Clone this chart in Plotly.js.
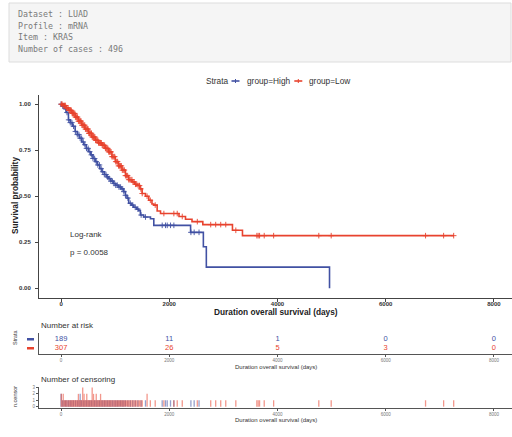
<!DOCTYPE html>
<html><head><meta charset="utf-8">
<script src="https://cdn.plot.ly/plotly-3.0.1.min.js"></script>
<style>html,body{margin:0;padding:0;background:#fff}#chart{width:512px;height:437px}</style>
</head><body><div id="chart"></div>
<script>
// ---------- data ----------
const infoLines = ["Dataset : LUAD", "Profile : mRNA", "Item : KRAS", "Number of cases : 496"];
const groupNames = ["group=High", "group=Low"];
const groupColors = ["#4151a3", "#e8432e"];

const highTime = [0, 25, 60, 95, 136, 170, 210, 260, 300, 340, 384, 420, 465, 507, 550, 590, 631, 670, 715, 755, 800, 840, 878, 920, 971, 1010, 1064, 1110, 1157, 1190, 1219, 1250, 1300, 1342, 1400, 1435, 1466, 1528, 1652, 1714, 2394, 2630, 2685, 4962];
const highSurv = [1.000, 0.990, 0.975, 0.955, 0.915, 0.900, 0.880, 0.852, 0.835, 0.815, 0.795, 0.780, 0.760, 0.742, 0.725, 0.705, 0.688, 0.670, 0.650, 0.633, 0.618, 0.605, 0.596, 0.582, 0.569, 0.560, 0.550, 0.540, 0.525, 0.505, 0.490, 0.462, 0.452, 0.440, 0.430, 0.422, 0.398, 0.387, 0.378, 0.342, 0.304, 0.226, 0.115, 0.000];

const lowTime = [0, 40, 90, 136, 200, 260, 320, 384, 440, 507, 570, 631, 690, 755, 815, 878, 940, 1002, 1060, 1126, 1190, 1250, 1312, 1360, 1405, 1460, 1498, 1560, 1621, 1680, 1714, 1776, 1838, 2180, 2300, 2420, 2620, 3168, 3353, 7262];
const lowSurv = [1.000, 0.993, 0.980, 0.967, 0.950, 0.930, 0.908, 0.886, 0.865, 0.842, 0.822, 0.804, 0.790, 0.777, 0.760, 0.741, 0.715, 0.688, 0.665, 0.642, 0.612, 0.590, 0.578, 0.565, 0.558, 0.540, 0.515, 0.500, 0.478, 0.458, 0.452, 0.420, 0.406, 0.390, 0.375, 0.362, 0.346, 0.315, 0.286, 0.286];

// one entry per censored case (repeats = several cases censored the same day)
const highCensored = [0, 0, 30, 55, 85, 110, 140, 170, 200, 230, 265, 300, 330, 353, 353, 380, 410, 440, 470, 500, 530, 560, 590, 620, 650, 680, 710, 740, 770, 800, 830, 860, 890, 920, 950, 980, 1010, 1040, 1070, 1100, 1130, 1160, 1190, 1235, 1280, 1325, 1370, 1420, 1480, 1560, 1869, 1930, 1962, 2023, 2085, 2400, 2460, 2550];
const lowCensored = [5, 5, 20, 40, 40, 62, 80, 95, 110, 130, 145, 160, 175, 190, 205, 215, 230, 240, 255, 265, 280, 290, 305, 320, 320, 335, 345, 358, 370, 385, 400, 400, 400, 412, 425, 425, 438, 450, 462, 475, 475, 488, 500, 512, 525, 538, 550, 562, 575, 575, 575, 588, 600, 600, 612, 625, 638, 650, 650, 665, 680, 692, 705, 718, 730, 730, 745, 760, 775, 790, 805, 820, 835, 850, 865, 880, 895, 910, 925, 940, 958, 975, 992, 1010, 1028, 1045, 1062, 1080, 1098, 1115, 1132, 1150, 1170, 1190, 1210, 1230, 1250, 1270, 1290, 1310, 1330, 1350, 1375, 1400, 1425, 1450, 1475, 1500, 1590, 1590, 1650, 1740, 1900, 2085, 2147, 2240, 2518, 2766, 2858, 2951, 3044, 3230, 3619, 3643, 3669, 3755, 3929, 4764, 4993, 6737, 7071, 7257];

const riskTimes = [0, 2000, 4000, 6000, 8000];
const highRisk = [189, 11, 1, 0, 0];
const lowRisk = [307, 26, 5, 3, 0];

const xTicks = [0, 2000, 4000, 6000, 8000];
const survTicks = [0, 0.25, 0.5, 0.75, 1];
const survTickText = ["0.00", "0.25", "0.50", "0.75", "1.00"];
const censorTicks = [0, 1, 2, 3];
const testLabel = "Log-rank";
const pLabel = "p = 0.0058";

// ---------- helpers ----------
const W = 512, H = 437;
const px = x => x / W;
const py = y => 1 - y / H;
function stepAt(times, surv, t) {
  let v = surv[0];
  for (let i = 0; i < times.length; i++) { if (times[i] <= t) v = surv[i]; else break; }
  return v;
}
function countByTime(arr) {
  const m = new Map();
  arr.forEach(t => m.set(t, (m.get(t) || 0) + 1));
  return [Array.from(m.keys()), Array.from(m.values())];
}
const FONT = "Liberation Sans, Arial, sans-serif";
const XR = [-408, 8335];

const curves = [[highTime, highSurv, highCensored], [lowTime, lowSurv, lowCensored]];
const traces = [];
curves.forEach((c, g) => {
  traces.push({
    x: c[0], y: c[1], type: "scatter", mode: "lines", line: {shape: "hv", color: groupColors[g], width: 1.6},
    name: groupNames[g], showlegend: false, xaxis: "x", yaxis: "y", hoverinfo: "skip"
  });
  const ct = countByTime(c[2])[0];
  traces.push({
    x: ct, y: ct.map(t => stepAt(c[0], c[1], t)), type: "scatter", mode: "markers",
    marker: {symbol: "cross-thin", size: 4, color: groupColors[g], line: {color: groupColors[g], width: 0.9}},
    showlegend: false, xaxis: "x", yaxis: "y", hoverinfo: "skip"
  });
});
[highRisk, lowRisk].forEach((r, g) => {
  traces.push({
    x: riskTimes, y: riskTimes.map(() => g === 0 ? 2 : 1), text: r.map(String), type: "scatter", mode: "text",
    textfont: {family: FONT, size: 7.5, color: groupColors[g]}, showlegend: false, xaxis: "x2", yaxis: "y2", hoverinfo: "skip"
  });
});
[highCensored, lowCensored].forEach((arr, g) => {
  const c = countByTime(arr);
  traces.push({
    x: c[0], y: c[1], type: "bar", width: 24, marker: {color: groupColors[g], line: {width: 0}}, opacity: 0.55,
    showlegend: false, xaxis: "x3", yaxis: "y3", hoverinfo: "skip"
  });
});

const axisCommon = {
  showline: true, linecolor: "#444", linewidth: 1, ticks: "outside", ticklen: 3, tickwidth: 1, tickcolor: "#444",
  showgrid: false, zeroline: false, fixedrange: true
};
const layout = {
  width: W, height: H, margin: {l: 0, r: 0, t: 0, b: 0, autoexpand: false},
  paper_bgcolor: "#fff", plot_bgcolor: "rgba(0,0,0,0)", showlegend: false, barmode: "overlay",
  font: {family: FONT, color: "#333"},
  xaxis: Object.assign({}, axisCommon, {domain: [px(39), 1], range: XR, tickvals: xTicks, anchor: "y", ticklabelstandoff: -3,
    tickfont: {family: FONT, size: 6, color: "#333", weight: "bold"}}),
  yaxis: Object.assign({}, axisCommon, {domain: [py(297.5), py(95)], range: [-0.05, 1.05], tickvals: survTicks, ticktext: survTickText, anchor: "x", ticklabelstandoff: 3,
    tickfont: {family: FONT, size: 6, color: "#333", weight: "bold"}}),
  xaxis2: Object.assign({}, axisCommon, {domain: [px(39), 1], range: XR, tickvals: xTicks, anchor: "y2", ticklen: 2, linecolor: "#555", tickcolor: "#555",
    tickfont: {family: FONT, size: 4.5, color: "#777"}}),
  yaxis2: Object.assign({}, axisCommon, {domain: [py(353.5), py(333)], range: [0.444, 2.667], anchor: "x2", ticks: "", showticklabels: false, linecolor: "#555"}),
  xaxis3: Object.assign({}, axisCommon, {domain: [px(39), 1], range: XR, tickvals: xTicks, anchor: "y3", ticklen: 2, linecolor: "#555", tickcolor: "#555",
    tickfont: {family: FONT, size: 4.5, color: "#777"}}),
  yaxis3: Object.assign({}, axisCommon, {domain: [py(407.6), py(386.5)], range: [-0.15, 3.15], tickvals: censorTicks, anchor: "x3", ticklen: 2, linecolor: "#555", tickcolor: "#555",
    tickfont: {family: FONT, size: 4.5, color: "#777"}}),
  shapes: [
    {type: "rect", xref: "paper", yref: "paper", x0: px(9), x1: px(511), y0: py(62), y1: py(3), fillcolor: "#f5f5f5", line: {color: "#dddddd", width: 1}, layer: "below"},
    {type: "line", xref: "paper", yref: "paper", x0: px(231.5), x1: px(239.5), y0: py(81), y1: py(81), line: {color: groupColors[0], width: 1.6}},
    {type: "line", xref: "paper", yref: "paper", x0: px(235.5), x1: px(235.5), y0: py(79), y1: py(83), line: {color: groupColors[0], width: 1}},
    {type: "line", xref: "paper", yref: "paper", x0: px(294.3), x1: px(302.3), y0: py(81), y1: py(81), line: {color: groupColors[1], width: 1.6}},
    {type: "line", xref: "paper", yref: "paper", x0: px(298.3), x1: px(298.3), y0: py(79), y1: py(83), line: {color: groupColors[1], width: 1}},
    {type: "line", xref: "paper", yref: "y2", x0: px(27), x1: px(34), y0: 2, y1: 2, line: {color: groupColors[0], width: 2.5}},
    {type: "line", xref: "paper", yref: "y2", x0: px(27), x1: px(34), y0: 1, y1: 1, line: {color: groupColors[1], width: 2.5}}
  ],
  annotations: []
};
const A = layout.annotations;
infoLines.forEach((t, i) => A.push({xref: "paper", yref: "paper", x: px(16), y: py([14.3, 25.8, 37.3, 49.2][i]), xanchor: "left", yanchor: "middle",
  text: t, showarrow: false, font: {family: "DejaVu Sans Mono, monospace", size: 8.3, color: "#7a7a7a"}}));
function ann(text, x, y, opts) {
  A.push(Object.assign({xref: "paper", yref: "paper", x: px(x), y: py(y), text: text, showarrow: false, xanchor: "left", yanchor: "middle",
    font: {family: FONT, size: 8.3, color: "#333"}}, opts || {}));
}
ann("Strata", 204, 81);
ann(groupNames[0], 244.5, 81);
ann(groupNames[1], 306.5, 81);
ann(testLabel, 68, 234, {font: {family: FONT, size: 8, color: "#333"}});
ann(pLabel, 68, 252.3, {font: {family: FONT, size: 8, color: "#333"}});
ann("Duration overall survival (days)", 276, 311.5, {xanchor: "center", font: {family: FONT, size: 8.3, color: "#222", weight: "bold"}});
ann("Survival probability", 15, 196, {xanchor: "center", textangle: -90, font: {family: FONT, size: 8.3, color: "#222", weight: "bold"}});
ann("Number at risk", 39, 325, {font: {family: FONT, size: 8, color: "#333"}});
ann("Strata", 15, 337, {xanchor: "center", textangle: -90, font: {family: FONT, size: 5.5, color: "#333"}});
ann("Duration overall survival (days)", 276, 366.5, {xanchor: "center", font: {family: FONT, size: 6, color: "#333"}});
ann("Number of censoring", 39, 379.5, {font: {family: FONT, size: 8, color: "#333"}});
ann("n.censor", 15, 397, {xanchor: "center", textangle: -90, font: {family: FONT, size: 5.5, color: "#333"}});
ann("Duration overall survival (days)", 276, 420.3, {xanchor: "center", font: {family: FONT, size: 6, color: "#333"}});

Plotly.newPlot("chart", traces, layout, {staticPlot: true, displayModeBar: false});
</script></body></html>
